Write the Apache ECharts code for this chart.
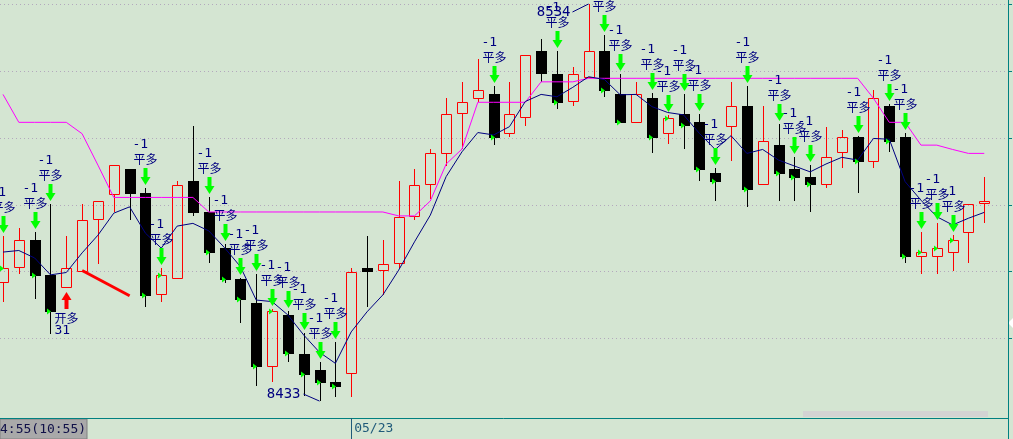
<!DOCTYPE html>
<html>
<head>
<meta charset="utf-8">
<script src="https://cdn.jsdelivr.net/npm/echarts@6/dist/echarts.min.js"></script>
<style>
html,body{margin:0;padding:0;background:#d4e5d2;}
#chart{width:1013px;height:439px;}
</style>
</head>
<body>
<div id="chart"></div>
<script>
// ---- data ----
const openP  = [8463.3,8467.1,8474.0,8465.1,8462.0,8466.1,8479.3,8485.7,8492.0,8485.9,
                8460.2,8464.3,8489.0,8481.1,8471.9,8464.1,8458.0,8441.9,8454.9,8445.0,
                8440.9,8437.9,8440.1,8466.8,8466.3,8468.1,8480.1,8488.2,8496.1,8506.3,
                8510.1,8511.1,8501.2,8505.3,8522.0,8516.2,8509.3,8515.4,8522.0,8511.1,
                8504.0,8510.1,8501.2,8506.0,8504.0,8491.0,8503.0,8508.1,8488.2,8498.1,
                8492.0,8490.0,8488.2,8496.4,8500.2,8494.1,8508.1,8500.2,8469.9,8469.9,
                8470.9,8476.0,8483.4];
const closeP = [8466.8,8474.0,8465.1,8455.9,8466.8,8479.1,8483.9,8493.0,8485.9,8460.0,
                8465.1,8488.0,8481.1,8470.9,8464.1,8459.0,8441.9,8455.9,8445.2,8439.9,
                8437.9,8436.8,8465.8,8466.2,8467.9,8479.8,8488.0,8496.1,8506.0,8509.1,
                8512.1,8500.2,8506.0,8521.0,8516.4,8509.1,8516.2,8522.0,8512.1,8504.0,
                8511.1,8500.2,8505.0,8503.2,8492.0,8489.0,8508.1,8486.9,8499.2,8491.0,
                8490.0,8488.2,8495.1,8500.2,8494.1,8510.1,8499.2,8469.9,8470.9,8471.9,
                8474.0,8483.1,8483.9];
const lowP   = [8458.2,8465.3,8459.0,8450.1,8461.8,8465.9,8467.9,8481.1,8479.1,8456.9,
                8458.2,8464.1,8480.1,8468.1,8463.0,8452.9,8436.8,8437.9,8442.9,8434.3,
                8433.0,8434.0,8434.0,8456.9,8460.0,8466.8,8479.1,8484.4,8492.8,8497.1,
                8509.1,8498.1,8500.2,8503.0,8514.2,8507.3,8508.1,8515.3,8510.3,8503.9,
                8503.9,8496.1,8498.4,8497.1,8489.0,8483.9,8494.1,8482.4,8488.1,8483.9,
                8483.9,8481.1,8487.2,8492.3,8485.9,8492.3,8496.4,8468.1,8465.3,8465.3,
                8466.1,8468.1,8478.3];
const highP  = [8475.0,8477.0,8476.0,8483.1,8475.0,8483.1,8484.0,8493.1,8492.1,8487.2,
                8466.8,8489.0,8503.0,8484.9,8473.0,8464.2,8465.3,8456.4,8455.9,8450.3,
                8442.9,8448.0,8466.8,8475.0,8474.0,8489.0,8492.0,8497.1,8510.1,8514.2,
                8520.0,8513.1,8514.2,8521.1,8525.1,8522.0,8518.0,8534.0,8526.1,8516.2,
                8514.2,8511.4,8505.8,8511.1,8506.0,8492.3,8514.2,8513.1,8508.1,8503.5,
                8495.1,8493.0,8502.7,8502.0,8500.4,8512.1,8508.6,8501.2,8476.0,8478.3,
                8475.2,8483.2,8490.0];
// blue average line
const maLine = [8470.9,8471.3,8469.4,8465.1,8465.7,8470.7,8475.2,8480.8,8482.4,8475.7,
                8471.9,8477.5,8478.2,8476.3,8472.0,8467.2,8458.7,8458.3,8454.9,8449.8,
                8445.4,8442.6,8450.6,8455.7,8460.0,8466.3,8473.5,8480.3,8490.1,8496.4,
                8501.3,8500.7,8502.8,8509.2,8511.0,8510.4,8512.8,8515.5,8514.8,8510.9,
                8511.0,8507.9,8506.4,8505.8,8501.1,8497.0,8500.5,8496.0,8497.0,8494.3,
                8492.8,8491.3,8493.3,8495.0,8494.3,8499.8,8499.6,8488.8,8484.1,8479.9,
                8477.8,8479.5,8481.0];
// magenta stop line
const stopLine = [8511.0,8503.9,8503.9,8503.9,8503.9,8501.0,8493.0,8484.8,8484.8,8484.8,
                8484.8,8484.8,8484.8,8481.1,8481.1,8481.1,8481.1,8481.1,8481.1,8481.1,
                8481.1,8481.1,8481.1,8481.1,8481.1,8480.1,8480.1,8483.9,8493.3,8497.1,
                8509.0,8509.0,8509.0,8509.0,8514.2,8514.2,8514.2,8515.1,8515.1,8515.1,
                8515.1,8515.1,8515.1,8515.1,8515.1,8515.1,8515.1,8515.1,8515.1,8515.1,
                8515.1,8515.1,8515.1,8515.1,8515.1,8510.0,8503.9,8503.9,8498.1,8498.1,
                8497.0,8496.0,8496.0];
// signals
const exitSignals = [0,2,3,9,10,13,14,15,16,17,18,19,20,21,31,35,38,39,41,42,43,44,45,47,49,50,51,54,56,57,58,59,60];
const exitQty = '-1';
const exitText = '平多';
const entrySignals = [4];
const entryText = '开多';
const entryQty = '31';
// hand-drawn red line (candle index, price)
const trendLine = [[5, 8466.2], [8, 8459.8]];
// horizontal grid levels
const gridLevels = [8534, 8517, 8500, 8483, 8466, 8449];
// x axis labels
const slotCount = 64;
const dayStartIndex = 22;
const dayLabel = '05/23';
const cursorLabel = '4:55(10:55)';

// ---- build ----
const categories = [];
for (let i = 0; i < slotCount; i++) categories.push(i === dayStartIndex ? dayLabel : '');
const candles = openP.map((o, i) => [i, o, closeP[i], lowP[i], highP[i]]);
const hiMax = Math.max(...highP), hiIdx = highP.indexOf(hiMax);
const loMin = Math.min(...lowP), loIdx = lowP.indexOf(loMin);

const NAVY = '#000080';
const chart = echarts.init(document.getElementById('chart'), null, {renderer: 'canvas'});
chart.setOption({
  animation: false,
  backgroundColor: '#d4e5d2',
  grid: {left: -4.913, right: 5, top: 0, bottom: 21, containLabel: false, outerBoundsMode: 'none'},
  xAxis: {
    type: 'category', data: categories, boundaryGap: true,
    axisLine: {show: true, lineStyle: {color: '#008080', width: 1}},
    axisTick: {show: true, alignWithLabel: true, length: 21,
      interval: (i) => i === dayStartIndex, lineStyle: {color: '#1f5a7a'}},
    axisLabel: {show: true, interval: (i) => i === dayStartIndex, align: 'left', margin: 4,
      padding: [0, 0, 0, 3], color: '#1f5a7a', fontFamily: 'DejaVu Sans Mono', fontSize: 13},
    splitLine: {show: false}
  },
  yAxis: {
    type: 'value', position: 'right', min: 8428.694, max: 8535.017, scale: true,
    axisLine: {show: true, onZero: false, lineStyle: {color: '#008080', width: 1}},
    axisTick: {show: false}, axisLabel: {show: false}, splitLine: {show: false}
  },
  graphic: [
    {type: 'rect', silent: true, shape: {x: 803, y: 411, width: 185, height: 6}, style: {fill: '#d3d3d3'}},
    {type: 'line', silent: true, shape: {x1: 1008.5, y1: 418, x2: 1008.5, y2: 439}, style: {stroke: '#008080', lineWidth: 1}},
    {type: 'polygon', silent: true, shape: {points: [[1008, 323], [1013, 318], [1013, 328]]}, style: {fill: '#ffffff'}},
    {type: 'rect', silent: true, shape: {x: 0, y: 419, width: 87, height: 20}, style: {fill: '#a9a9a9', stroke: '#808080', lineWidth: 1}},
    {type: 'text', silent: true, x: 0, y: 429.5, style: {text: cursorLabel, fill: '#101048', font: '13px "DejaVu Sans Mono"', verticalAlign: 'middle'}}
  ],
  series: [
    { // grid levels + right ticks
      type: 'custom', z: 1, silent: true,
      data: gridLevels.map(v => [0, v]), encode: {x: 0, y: 1},
      renderItem(params, api) {
        const cs = params.coordSys;
        const y = Math.round(api.coord([0, api.value(1)])[1]) + 0.5;
        return {type: 'group', children: [
          {type: 'line', shape: {x1: 0, y1: y, x2: cs.x + cs.width, y2: y},
            style: {stroke: '#b3a8bd', lineWidth: 1, lineDash: [1, 3]}},
          {type: 'line', shape: {x1: cs.x + cs.width, y1: y, x2: cs.x + cs.width + 4, y2: y},
            style: {stroke: '#008080', lineWidth: 1}}
        ]};
      }
    },
    { // candles (pixel-snapped)
      type: 'custom', z: 2, silent: true, data: candles, encode: {x: 0, y: [1, 2, 3, 4]},
      renderItem(params, api) {
        const i = api.value(0);
        const o = api.value(1), c = api.value(2), l = api.value(3), h = api.value(4);
        const po = api.coord([i, o]);
        const x = Math.round(po[0]) + 0.5;
        const yO = po[1], yC = api.coord([i, c])[1];
        const yL = Math.round(api.coord([i, l])[1]), yH = Math.round(api.coord([i, h])[1]);
        const up = c > o;
        let top = Math.round(Math.min(yO, yC)), bot = Math.round(Math.max(yO, yC));
        if (!up && bot - top < 2) bot = top + 2;
        if (up && bot - top < 1) bot = top + 1;
        const col = up ? '#ff0000' : '#000000';
        const ch = [];
        if (yH < top) ch.push({type: 'line', shape: {x1: x, y1: yH, x2: x, y2: top}, style: {stroke: col, lineWidth: 1}});
        if (yL > bot) ch.push({type: 'line', shape: {x1: x, y1: bot, x2: x, y2: yL}, style: {stroke: col, lineWidth: 1}});
        if (up) {
          ch.push({type: 'rect', shape: {x: x - 5, y: top + 0.5, width: 10, height: bot - top},
            style: {fill: null, stroke: col, lineWidth: 1}});
        } else {
          ch.push({type: 'rect', shape: {x: x - 5.5, y: top, width: 11, height: bot - top + 1},
            style: {fill: col, stroke: null}});
        }
        return {type: 'group', children: ch};
      }
    },
    {
      type: 'line', z: 3, silent: true, data: stopLine, symbol: 'none', showSymbol: false,
      lineStyle: {color: '#ff00ff', width: 1}
    },
    {
      type: 'line', z: 3, silent: true, data: maLine, symbol: 'none', showSymbol: false,
      lineStyle: {color: NAVY, width: 1}
    },
    {
      type: 'line', z: 3, silent: true, data: trendLine, symbol: 'none', showSymbol: false,
      lineStyle: {color: '#ff0000', width: 3}
    },
    { // exit signals
      type: 'custom', z: 5, silent: true,
      data: exitSignals.map(i => [i, highP[i], closeP[i]]), encode: {x: 0, y: 1},
      renderItem(params, api) {
        const i = api.value(0);
        const p = api.coord([i, api.value(1)]);
        const c = api.coord([i, api.value(2)]);
        const x = Math.round(p[0]) + 0.5;
        const tip = Math.round(p[1]) - 3;
        const cy = Math.round(c[1]) + 0.5;
        return {type: 'group', children: [
          {type: 'polygon', shape: {points: [[x - 2, tip - 17], [x + 2, tip - 17], [x + 2, tip - 8], [x + 5, tip - 8], [x, tip], [x - 5, tip - 8], [x - 2, tip - 8]]},
            style: {fill: '#00ff00'}},
          {type: 'polygon', shape: {points: [[x - 3.5, cy - 3], [x + 0.5, cy], [x - 3.5, cy + 3]]}, style: {fill: '#00ff00'}},
          {type: 'text', x: x - 13, y: tip - 40, style: {text: exitQty, fill: NAVY, font: '13px "DejaVu Sans Mono"', verticalAlign: 'middle'}},
          {type: 'text', x: x - 12, y: tip - 25.5, style: {text: exitText, fill: NAVY, font: '12px "Noto Sans CJK SC"', verticalAlign: 'middle'}}
        ]};
      }
    },
    { // entry signal
      type: 'custom', z: 5, silent: true,
      data: entrySignals.map(i => [i, lowP[i]]), encode: {x: 0, y: 1},
      renderItem(params, api) {
        const i = api.value(0);
        const p = api.coord([i, api.value(1)]);
        const x = Math.round(p[0]) + 0.5;
        const tip = Math.round(p[1]) + 4;
        return {type: 'group', children: [
          {type: 'polygon', shape: {points: [[x, tip], [x + 5, tip + 8], [x + 2, tip + 8], [x + 2, tip + 17], [x - 2, tip + 17], [x - 2, tip + 8], [x - 5, tip + 8]]},
            style: {fill: '#ff0000'}},
          {type: 'text', x: x - 12, y: tip + 26, style: {text: entryText, fill: NAVY, font: '12px "Noto Sans CJK SC"', verticalAlign: 'middle'}},
          {type: 'text', x: x - 12, y: tip + 39, style: {text: entryQty, fill: NAVY, font: '13px "DejaVu Sans Mono"', verticalAlign: 'middle'}}
        ]};
      }
    },
    { // extreme labels
      type: 'custom', z: 5, silent: true,
      data: [[hiIdx, hiMax, 1], [loIdx, loMin, -1]], encode: {x: 0, y: 1},
      renderItem(params, api) {
        const i = api.value(0);
        const v = api.value(1);
        const dir = api.value(2);
        const p = api.coord([i, v]);
        const x = Math.round(p[0]) + 0.5, y = p[1];
        const ly = dir > 0 ? y + 8 : y - 7;
        return {type: 'group', children: [
          {type: 'line', shape: {x1: x - 17, y1: ly, x2: x - 1, y2: y}, style: {stroke: NAVY, lineWidth: 1}},
          {type: 'text', x: dir > 0 ? x - 19 : x - 20, y: ly + 0.5,
            style: {text: String(Math.round(v)), fill: NAVY, font: '14px "DejaVu Sans Mono"', align: 'right', verticalAlign: 'middle'}}
        ]};
      }
    }
  ]
});
</script>
</body>
</html>
